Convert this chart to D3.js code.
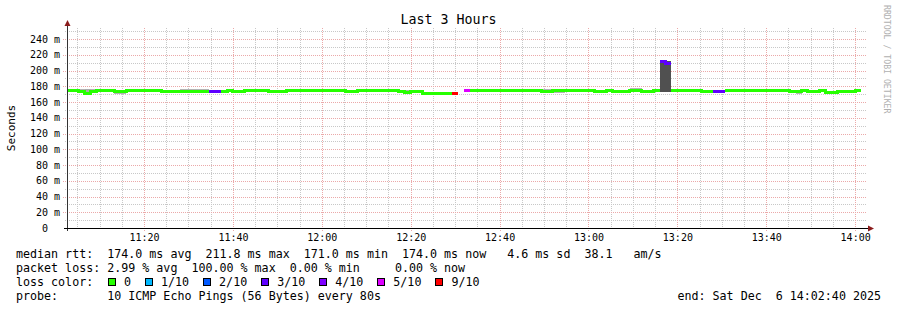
<!DOCTYPE html>
<html>
<head>
<meta charset="utf-8">
<script src="https://cdn.jsdelivr.net/npm/d3@7"></script>
<style>
body { margin: 0; background: #fff; }
text { font-family: "DejaVu Sans Mono", monospace; fill: #000; }
.pre { white-space: pre; }
</style>
</head>
<body>
<div id="chart"></div>
<script>
///////////////////////////////////////////////////////////////////////////
/////////////////////////////// Data //////////////////////////////////////
///////////////////////////////////////////////////////////////////////////

var startTime = Date.UTC(2025, 11, 6, 11, 2, 40),
	endTime = Date.UTC(2025, 11, 6, 14, 2, 40),
	stepSec = 80;

//median rtt per 80s step, in ms (null = no answer)
var median = [
	174.3, 174.2, 173.0, 171.2, 172.9, 174.1, 174.3, 174.2, 173.0, 173.1,
	174.2, 174.4, 174.1, 174.3, 174.2, 174.1, 173.0, 172.9, 173.1, 173.0,
	172.8, 173.0, 173.1, 172.9, 173.0, 173.0, 172.9, 174.2, 173.0, 173.1,
	174.3, 174.1, 174.2, 174.4, 173.0, 172.9, 173.1, 174.2, 174.3, 174.1,
	174.2, 174.4, 174.2, 174.1, 174.3, 174.2, 174.1, 173.0, 172.9, 174.2,
	174.3, 174.1, 174.2, 174.4, 174.2, 174.1, 173.0, 171.9, 173.0, 172.9,
	171.0, 171.1, 171.0, 171.2, 171.0, 171.0, null,  174.3, 174.2, 174.1,
	174.3, 174.2, 174.4, 174.2, 174.1, 174.3, 174.2, 174.1, 174.3, 174.2,
	173.0, 172.9, 174.2, 174.3, 174.1, 174.2, 174.4, 174.2, 174.1, 173.0,
	172.9, 174.2, 173.0, 173.1, 172.9, 174.2, 174.3, 173.0, 172.9, 174.2,
	211.8, 209.5, 174.2, 174.3, 174.1, 174.2, 174.4, 173.0, 172.9, 173.0,
	173.1, 174.2, 174.1, 174.3, 174.2, 174.4, 174.2, 174.1, 174.3, 174.2,
	174.1, 174.3, 173.0, 172.9, 174.2, 173.0, 173.1, 174.2, 171.8, 171.9,
	173.0, 172.9, 173.1, 174.0, null
];

//lost pings out of 10 per step
var loss = [
	0, 0, 0, 0, 0, 0, 0, 0, 0, 0,
	0, 0, 0, 0, 0, 0, 0, 0, 0, 0,
	0, 0, 0, 0, 3, 3, 0, 0, 0, 0,
	0, 0, 0, 0, 0, 0, 0, 0, 0, 0,
	0, 0, 0, 0, 0, 0, 0, 0, 0, 0,
	0, 0, 0, 0, 0, 0, 0, 0, 0, 0,
	0, 0, 0, 0, 0, 9, 10, 5, 0, 0,
	0, 0, 0, 0, 0, 0, 0, 0, 0, 0,
	0, 0, 0, 0, 0, 0, 0, 0, 0, 0,
	0, 0, 0, 0, 0, 0, 0, 0, 0, 0,
	3, 3, 0, 0, 0, 0, 0, 0, 0, 3,
	3, 0, 0, 0, 0, 0, 0, 0, 0, 0,
	0, 0, 0, 0, 0, 0, 0, 0, 0, 0,
	0, 0, 0, 0, 0
];

//smoke: fastest and slowest ping per step, in ms
var smokeLo = [
	173.3, 173.2, 172.0, 170.2, 171.9, 173.1, 173.3, 173.2, 170.0, 170.0,
	173.2, 173.4, 173.1, 173.3, 173.2, 173.1, 172.0, 171.9, 172.1, 172.0,
	171.8, 172.0, 172.1, 171.9, 172.0, 172.0, 171.9, 173.2, 172.0, 172.1,
	173.3, 173.1, 173.2, 173.4, 172.0, 171.9, 172.1, 173.2, 173.3, 173.1,
	173.2, 173.4, 173.2, 173.1, 173.3, 173.2, 173.1, 172.0, 171.9, 173.2,
	173.3, 173.1, 173.2, 173.4, 173.2, 173.1, 172.0, 170.9, 172.0, 171.9,
	170.0, 170.1, 170.0, 170.2, 170.0, 170.0, null,  173.3, 173.2, 173.1,
	173.3, 173.2, 173.4, 173.2, 173.1, 173.3, 173.2, 173.1, 173.3, 173.2,
	172.0, 171.9, 171.0, 171.0, 173.1, 173.2, 173.4, 173.2, 173.1, 172.0,
	171.9, 173.2, 172.0, 172.1, 171.9, 173.2, 173.3, 172.0, 171.9, 173.2,
	172.8, 172.8, 173.2, 173.3, 173.1, 173.2, 173.4, 172.0, 171.9, 172.0,
	172.1, 173.2, 173.1, 173.3, 173.2, 173.4, 173.2, 173.1, 173.3, 173.2,
	173.1, 173.3, 172.0, 170.0, 173.2, 172.0, 172.1, 173.2, 169.6, 169.6,
	172.0, 171.9, 172.1, 173.0, null
];
var smokeHi = [
	175.3, 175.2, 176.0, 176.0, 176.0, 175.1, 175.3, 175.2, 174.0, 174.1,
	175.2, 175.4, 175.1, 175.3, 175.2, 175.1, 174.0, 173.9, 174.1, 176.0,
	176.0, 176.0, 176.0, 176.0, 174.0, 174.0, 173.9, 175.2, 174.0, 174.1,
	175.3, 175.1, 175.2, 175.4, 174.0, 173.9, 174.1, 175.2, 175.3, 175.1,
	175.2, 175.4, 175.2, 175.1, 175.3, 175.2, 175.1, 174.0, 173.9, 175.2,
	175.3, 175.1, 175.2, 175.4, 175.2, 175.1, 175.8, 175.8, 174.0, 173.9,
	172.0, 172.1, 172.0, 172.2, 172.0, 172.0, null,  175.3, 175.2, 175.1,
	175.3, 175.2, 175.4, 175.2, 175.1, 175.3, 175.2, 175.1, 175.3, 175.2,
	176.0, 176.0, 175.2, 175.3, 175.1, 175.2, 175.4, 175.2, 175.1, 174.0,
	173.9, 175.2, 174.0, 174.1, 173.9, 177.3, 177.3, 174.0, 173.9, 175.2,
	212.5, 212.5, 175.2, 175.3, 175.1, 175.2, 175.4, 174.0, 173.9, 174.0,
	174.1, 175.2, 175.1, 175.3, 175.2, 175.4, 175.2, 175.1, 175.3, 175.2,
	175.1, 175.3, 174.0, 173.9, 175.2, 174.0, 174.1, 175.2, 172.8, 172.9,
	174.0, 173.9, 174.1, 175.0, null
];

var lossLevels = [0, 1, 2, 3, 4, 5, 9],
	lossLabels = ["0", "1/10", "2/10", "3/10", "4/10", "5/10", "9/10"],
	lossColors = ["#26ff00", "#00b8ff", "#0059ff", "#5e00ff", "#7e00ff", "#dd00ff", "#ff0000"];

var yTicksMajor = [0, 20, 40, 60, 80, 100, 120, 140, 160, 180, 200, 220, 240],
	yTicksMinor = [10, 30, 50, 70, 90, 110, 130, 150, 170, 190, 210, 230, 250];

var legendLines = [
	"median rtt:  174.0 ms avg  211.8 ms max  171.0 ms min  174.0 ms now   4.6 ms sd  38.1   am/s",
	"packet loss: 2.99 % avg  100.00 % max  0.00 % min     0.00 % now",
	"loss color:",
	"probe:       10 ICMP Echo Pings (56 Bytes) every 80s"
];
var endLabel = "end: Sat Dec  6 14:02:40 2025";

///////////////////////////////////////////////////////////////////////////
/////////////////////////////// Setup /////////////////////////////////////
///////////////////////////////////////////////////////////////////////////

var width = 897, height = 310,
	margin = {left: 67, top: 28, right: 30, bottom: 82},
	plotW = width - margin.left - margin.right,
	plotH = height - margin.top - margin.bottom;

var svg = d3.select("#chart").append("svg")
	.attr("width", width)
	.attr("height", height)
	.style("display", "block");

svg.append("rect").attr("width", width).attr("height", height).attr("fill", "#fff");

var x = d3.scaleUtc().domain([startTime, endTime]).range([margin.left, margin.left + plotW]);
var y = d3.scaleLinear().domain([0, 254]).range([margin.top + plotH, margin.top]);

var stepTime = function(i) { return startTime + i * stepSec * 1000; };

//////////////////////////////////////////////////////
////////////////////// Grid //////////////////////////
//////////////////////////////////////////////////////

var grid = svg.append("g").attr("class", "grid").style("shape-rendering", "crispEdges");

//minor horizontal
grid.selectAll(".hMinor").data(yTicksMinor).enter().append("line")
	.attr("x1", margin.left - 2).attr("x2", margin.left + plotW)
	.attr("y1", function(d) { return Math.round(y(d)) + 0.5; })
	.attr("y2", function(d) { return Math.round(y(d)) + 0.5; })
	.style("stroke", "#c8c8c8").style("stroke-dasharray", "1,1");

//minor vertical, every 5 minutes
var minorTimes = x.ticks(d3.utcMinute.every(5)).filter(function(d) { return d.getUTCMinutes() % 20 !== 0; });
grid.selectAll(".vMinor").data(minorTimes).enter().append("line")
	.attr("x1", function(d) { return Math.round(x(d)) + 0.5; })
	.attr("x2", function(d) { return Math.round(x(d)) + 0.5; })
	.attr("y1", margin.top).attr("y2", margin.top + plotH + 2)
	.style("stroke", "#c8c8c8").style("stroke-dasharray", "1,1");

//major horizontal
grid.selectAll(".hMajor").data(yTicksMajor.slice(1)).enter().append("line")
	.attr("x1", margin.left - 4).attr("x2", margin.left + plotW)
	.attr("y1", function(d) { return Math.round(y(d)) + 0.5; })
	.attr("y2", function(d) { return Math.round(y(d)) + 0.5; })
	.style("stroke", "#eba9a9").style("stroke-dasharray", "1,1");

//major vertical, every 20 minutes
var majorTimes = x.ticks(d3.utcMinute.every(20));
grid.selectAll(".vMajor").data(majorTimes).enter().append("line")
	.attr("x1", function(d) { return Math.round(x(d)) + 0.5; })
	.attr("x2", function(d) { return Math.round(x(d)) + 0.5; })
	.attr("y1", margin.top).attr("y2", margin.top + plotH + 3)
	.style("stroke", "#eba9a9").style("stroke-dasharray", "1,1");

//////////////////////////////////////////////////////
////////////////////// Smoke /////////////////////////
//////////////////////////////////////////////////////

var smokeShade = d3.scaleLinear().domain([2.5, 30]).range(["#b9b9b9", "#505050"]).clamp(true);

svg.append("g").attr("class", "smoke")
	.style("shape-rendering", "crispEdges")
	.selectAll("rect")
	.data(median.map(function(m, i) { return i; }).filter(function(i) { return smokeLo[i] !== null; }))
	.enter().append("rect")
	.attr("x", function(i) { return x(stepTime(i)); })
	.attr("width", function(i) { return x(stepTime(i + 1)) - x(stepTime(i)); })
	.attr("y", function(i) { return y(smokeHi[i]); })
	.attr("height", function(i) { return y(smokeLo[i]) - y(smokeHi[i]); })
	.attr("fill", function(i) { return smokeShade(smokeHi[i] - smokeLo[i]); });

//////////////////////////////////////////////////////
/////////////////// Median line //////////////////////
//////////////////////////////////////////////////////

//split into runs of equal loss colour
var runs = [], cur = null;
median.forEach(function(m, i) {
	if (m === null) { cur = null; return; }
	if (!cur || cur.loss !== loss[i]) {
		cur = {loss: loss[i], pts: []};
		runs.push(cur);
	}
	cur.pts.push([stepTime(i), m]);
	cur.end = [stepTime(i + 1), m];
});
runs.forEach(function(r) { r.pts.push(r.end); });

var lossColor = d3.scaleOrdinal().domain(lossLevels).range(lossColors);

var medianLine = d3.line()
	.x(function(d) { return x(d[0]); })
	.y(function(d) { return y(d[1]); })
	.curve(d3.curveStepAfter);

svg.append("g").attr("class", "median")
	.selectAll("path").data(runs).enter().append("path")
	.attr("d", function(r) { return medianLine(r.pts); })
	.style("fill", "none")
	.style("stroke", function(r) { return lossColor(r.loss); })
	.style("stroke-width", 3)
	.style("shape-rendering", "crispEdges");

//////////////////////////////////////////////////////
/////////////////////// Axes /////////////////////////
//////////////////////////////////////////////////////

var yAxis = d3.axisLeft(y)
	.tickValues(yTicksMajor)
	.tickSize(0)
	.tickPadding(7)
	.tickFormat(function(d) { return d === 0 ? "0  " : d + " m"; });

svg.append("g")
	.attr("transform", "translate(" + margin.left + ",0)")
	.call(yAxis)
	.call(function(g) { g.select(".domain").remove(); })
	.selectAll("text")
	.attr("class", "pre")
	.style("font-family", "DejaVu Sans Mono")
	.style("font-size", "10px")
	.attr("fill", "#000");

var xAxis = d3.axisBottom(x)
	.ticks(d3.utcMinute.every(20))
	.tickSize(0)
	.tickPadding(6)
	.tickFormat(d3.utcFormat("%H:%M"));

svg.append("g")
	.attr("transform", "translate(0," + (margin.top + plotH) + ")")
	.call(xAxis)
	.call(function(g) { g.select(".domain").remove(); })
	.selectAll("text")
	.style("font-family", "DejaVu Sans Mono")
	.style("font-size", "10px")
	.attr("fill", "#000");

//axis lines and arrows
var axisG = svg.append("g").style("shape-rendering", "crispEdges");
axisG.append("line")
	.attr("x1", margin.left + 0.5).attr("x2", margin.left + 0.5)
	.attr("y1", margin.top - 3).attr("y2", margin.top + plotH + 3)
	.style("stroke", "#333");
axisG.append("line")
	.attr("x1", margin.left - 3).attr("x2", margin.left + plotW + 3)
	.attr("y1", margin.top + plotH + 0.5).attr("y2", margin.top + plotH + 0.5)
	.style("stroke", "#000");

svg.append("path")
	.attr("d", "M" + (margin.left - 2.5) + "," + (margin.top - 2) + "L" + (margin.left + 3.5) + "," + (margin.top - 2) + "L" + (margin.left + 0.5) + "," + (margin.top - 8) + "Z")
	.attr("fill", "#8b1c1c");
svg.append("path")
	.attr("d", "M" + (margin.left + plotW + 1) + "," + (margin.top + plotH - 2.5) + "L" + (margin.left + plotW + 1) + "," + (margin.top + plotH + 3.5) + "L" + (margin.left + plotW + 7) + "," + (margin.top + plotH + 0.5) + "Z")
	.attr("fill", "#8b1c1c");

//////////////////////////////////////////////////////
/////////////////////// Titles ///////////////////////
//////////////////////////////////////////////////////

svg.append("text")
	.attr("x", width / 2)
	.attr("y", 24)
	.style("text-anchor", "middle")
	.style("font-size", "13.3px")
	.text("Last 3 Hours");

svg.append("text")
	.attr("transform", "translate(15," + (margin.top + plotH / 2) + ") rotate(-90)")
	.style("text-anchor", "middle")
	.style("font-size", "11px")
	.text("Seconds");

svg.append("text")
	.attr("transform", "translate(884,5) rotate(90)")
	.style("font-size", "8.2px")
	.style("fill", "#b0b0b0")
	.text("RRDTOOL / TOBI OETIKER");

//////////////////////////////////////////////////////
/////////////////////// Legend ///////////////////////
//////////////////////////////////////////////////////

var legendFont = 11.66, charW = legendFont * 0.602,
	legendX = 16, legendY0 = 258, legendDy = 14;

svg.append("g").selectAll("text").data(legendLines).enter().append("text")
	.attr("class", "pre")
	.attr("x", legendX)
	.attr("y", function(d, i) { return legendY0 + i * legendDy; })
	.style("font-size", legendFont + "px")
	.text(function(d) { return d; });

svg.append("text")
	.attr("class", "pre")
	.attr("x", 881)
	.attr("y", legendY0 + 3 * legendDy)
	.style("text-anchor", "end")
	.style("font-size", legendFont + "px")
	.text(endLabel);

//loss colour boxes
var bx = 108, boxes = [];
lossLabels.forEach(function(l, i) {
	boxes.push({x: bx, label: l, color: lossColors[i]});
	bx = bx + 16 + l.length * charW + 14;
});
var boxG = svg.append("g").selectAll("g").data(boxes).enter().append("g");
boxG.append("rect")
	.attr("x", function(d) { return Math.round(d.x) + 0.5; })
	.attr("y", legendY0 + 2 * legendDy - 7.5)
	.attr("width", 7).attr("height", 7)
	.attr("fill", function(d) { return d.color; })
	.style("stroke", "#000")
	.style("shape-rendering", "crispEdges");
boxG.append("text")
	.attr("x", function(d) { return d.x + 16; })
	.attr("y", legendY0 + 2 * legendDy)
	.style("font-size", legendFont + "px")
	.text(function(d) { return d.label; });
</script>
</body>
</html>
